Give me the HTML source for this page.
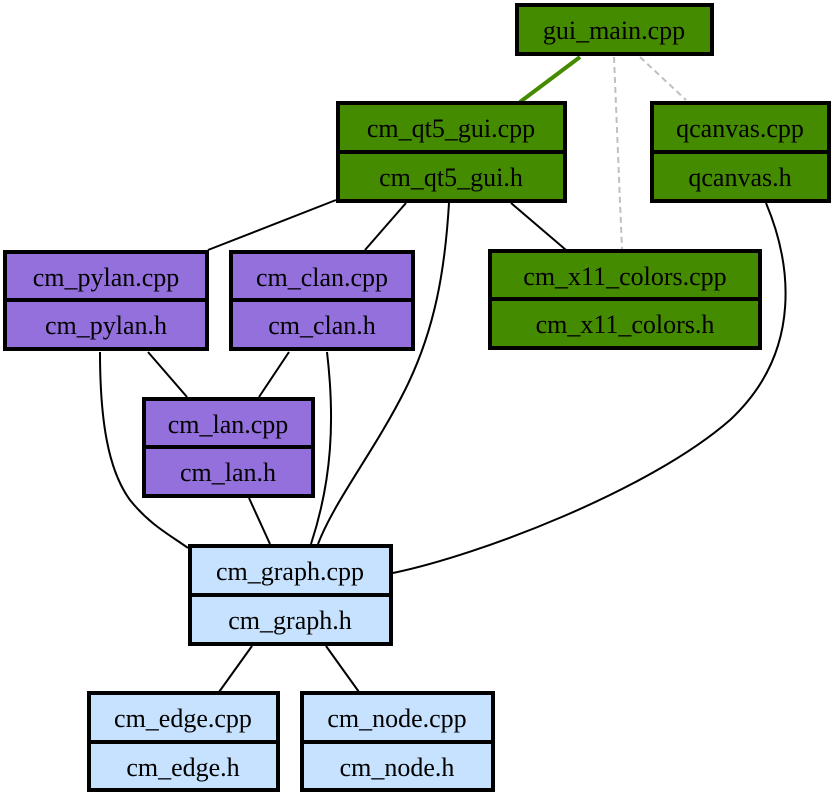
<!DOCTYPE html>
<html><head><meta charset="utf-8"><style>html,body{margin:0;padding:0;background:#fff}svg{display:block}text{font-family:"Liberation Serif",serif;font-size:26px;fill:#000}</style></head>
<body>
<svg width="835" height="797" viewBox="0 0 835 797" xmlns="http://www.w3.org/2000/svg">
<g fill="none" stroke="#000" stroke-width="2">
<path d="M580,57 L520,102" stroke="#458b00" stroke-width="4"/>
<path d="M614,57 L622,250" stroke="#c0c0c0" stroke-dasharray="6,4"/>
<path d="M640,57 L686,100" stroke="#c0c0c0" stroke-dasharray="6,4"/>
<path d="M336,200 L208,250"/>
<path d="M406,203 L365,250"/>
<path d="M511,203 L566,250"/>
<path d="M449,203 C445,270 435,330 405,390 C375,450 335,500 318,544"/>
<path d="M766,203 C790,260 805,350 730,420 C650,490 480,555 393,573"/>
<path d="M148,352 L187,397"/>
<path d="M100,352 C100,420 108,470 130,500 C150,525 170,535 188,548"/>
<path d="M289,352 L259,397"/>
<path d="M327,352 C335,420 332,480 311,544"/>
<path d="M249,498 L270,544"/>
<path d="M252,646 L219,692"/>
<path d="M326,646 L359,692"/>
</g>
<g stroke="#000" stroke-width="4">
<rect x="517" y="5" width="195" height="49" fill="#458b00"/>
<rect x="338" y="103" width="227" height="98" fill="#458b00"/><line x1="338" y1="152" x2="565" y2="152"/>
<rect x="652" y="103" width="177" height="98" fill="#458b00"/><line x1="652" y1="152" x2="829" y2="152"/>
<rect x="5" y="252" width="202" height="97" fill="#9370db"/><line x1="5" y1="300" x2="207" y2="300"/>
<rect x="231" y="252" width="182" height="97" fill="#9370db"/><line x1="231" y1="300" x2="413" y2="300"/>
<rect x="490" y="251" width="270" height="97" fill="#458b00"/><line x1="490" y1="299" x2="760" y2="299"/>
<rect x="144" y="399" width="169" height="97" fill="#9370db"/><line x1="144" y1="447" x2="313" y2="447"/>
<rect x="190" y="546" width="201" height="98" fill="#c6e2ff"/><line x1="190" y1="595" x2="391" y2="595"/>
<rect x="89" y="693" width="189" height="97" fill="#c6e2ff"/><line x1="89" y1="742" x2="278" y2="742"/>
<rect x="302" y="693" width="191" height="97" fill="#c6e2ff"/><line x1="302" y1="742" x2="493" y2="742"/>
</g>
<g text-anchor="middle">
<text x="614" y="39">gui_main.cpp</text>
<text x="451" y="137">cm_qt5_gui.cpp</text>
<text x="451" y="186">cm_qt5_gui.h</text>
<text x="740" y="137">qcanvas.cpp</text>
<text x="740" y="186">qcanvas.h</text>
<text x="106" y="286">cm_pylan.cpp</text>
<text x="106" y="334">cm_pylan.h</text>
<text x="322" y="286">cm_clan.cpp</text>
<text x="322" y="334">cm_clan.h</text>
<text x="625" y="285">cm_x11_colors.cpp</text>
<text x="625" y="333">cm_x11_colors.h</text>
<text x="228" y="433">cm_lan.cpp</text>
<text x="228" y="481">cm_lan.h</text>
<text x="290" y="580">cm_graph.cpp</text>
<text x="290" y="629">cm_graph.h</text>
<text x="183" y="727">cm_edge.cpp</text>
<text x="183" y="776">cm_edge.h</text>
<text x="397" y="727">cm_node.cpp</text>
<text x="397" y="776">cm_node.h</text>
</g>
</svg>
</body></html>
